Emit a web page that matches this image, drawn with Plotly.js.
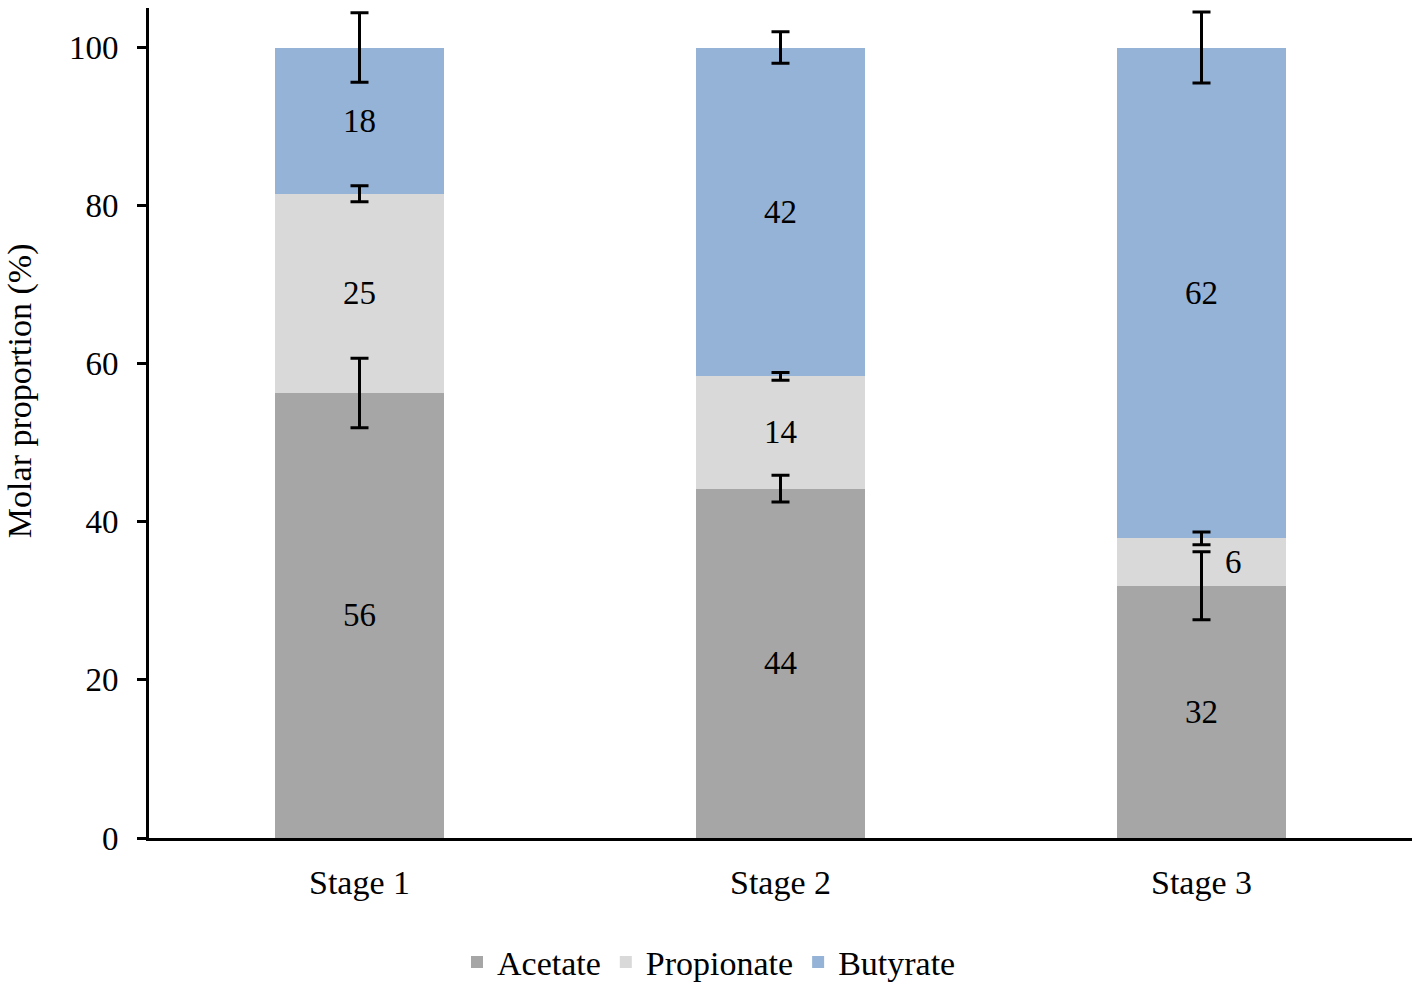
<!DOCTYPE html>
<html>
<head>
<meta charset="utf-8">
<script src="https://cdn.plot.ly/plotly-3.0.1.min.js"></script>
<style>
  html, body { margin: 0; padding: 0; background: #fff; }
  #chart { width: 1418px; height: 988px; }
</style>
</head>
<body>
<div id="chart"></div>
<script>
const stages = ["Stage 1", "Stage 2", "Stage 3"];
const acetate = [56.3, 44.2, 31.9];
const propionate = [25.2, 14.2, 6.0];
const butyrate = [18.5, 41.6, 62.1];
const acetateErr = [4.4, 1.7, 4.3];
const propionateErr = [1.0, 0.5, 0.8];
const butyrateErr = [4.4, 2.0, 4.5];
const acetateLabels = ["56", "44", "32"];
const propionateLabels = ["25", "14", "6"];
const butyrateLabels = ["18", "42", "62"];

const FONT = "Liberation Serif, Times New Roman, serif";
const FS = 33;

// the "6" of stage 3 is drawn beside the bar segment as an annotation
const smallSegment = 2;

function barTrace(name, values, labels, color, hideIndex) {
  return {
    type: "bar",
    name: name,
    x: stages,
    y: values,
    text: labels.map((t, i) => (i === hideIndex ? "" : t)),
    textposition: "inside",
    insidetextanchor: "middle",
    textangle: 0,
    constraintext: "none",
    textfont: { family: FONT, size: FS, color: "#000" },
    marker: { color: color, line: { width: 0 } },
    hoverinfo: "skip",
  };
}

function errTrace(tops, errs) {
  return {
    type: "scatter",
    mode: "markers",
    x: stages,
    y: tops,
    marker: { size: 1, opacity: 0 },
    error_y: {
      type: "data",
      array: errs,
      visible: true,
      color: "#000",
      thickness: 3,
      width: 9,
    },
    showlegend: false,
    hoverinfo: "skip",
  };
}

const acetateTop = acetate.slice();
const propionateTop = acetate.map((v, i) => v + propionate[i]);
const butyrateTop = propionateTop.map((v, i) => v + butyrate[i]);

const traces = [
  barTrace("Acetate", acetate, acetateLabels, "#a6a6a6", -1),
  barTrace("Propionate", propionate, propionateLabels, "#d9d9d9", smallSegment),
  barTrace("Butyrate", butyrate, butyrateLabels, "#95b3d7", -1),
  errTrace(acetateTop, acetateErr),
  errTrace(propionateTop, propionateErr),
  errTrace(butyrateTop, butyrateErr),
];

const layout = {
  width: 1418,
  height: 988,
  margin: { l: 149, r: 6, t: 8, b: 150 },
  paper_bgcolor: "#fff",
  plot_bgcolor: "#fff",
  barmode: "stack",
  bargap: 0.6,
  font: { family: FONT, size: FS, color: "#000" },
  showlegend: true,
  legend: {
    orientation: "h",
    traceorder: "normal",
    xref: "container",
    yref: "container",
    x: 0.5,
    xanchor: "center",
    y: 0.026,
    yanchor: "middle",
    font: { family: FONT, size: 34, color: "#000" },
    itemclick: false,
  },
  xaxis: {
    type: "category",
    showline: true,
    linecolor: "#000",
    linewidth: 3,
    ticks: "",
    showgrid: false,
    zeroline: false,
    ticklabelstandoff: 12,
    tickfont: { family: FONT, size: 34, color: "#000" },
  },
  yaxis: {
    range: [0, 105],
    tickvals: [0, 20, 40, 60, 80, 100],
    showline: true,
    linecolor: "#000",
    linewidth: 3,
    ticks: "outside",
    ticklen: 9,
    tickwidth: 3,
    tickcolor: "#000",
    showgrid: false,
    zeroline: false,
    ticklabelstandoff: 12,
    tickfont: { family: FONT, size: 33, color: "#000" },
  },
  annotations: [
    {
      xref: "paper",
      yref: "paper",
      x: -0.102,
      y: 0.5386,
      xanchor: "center",
      yanchor: "middle",
      textangle: -90,
      showarrow: false,
      text: "Molar proportion (%)",
      font: { family: FONT, size: 34, color: "#000" },
    },
    {
      xref: "x",
      yref: "y",
      x: stages[smallSegment],
      y: acetate[smallSegment] + propionate[smallSegment] / 2,
      xshift: 32,
      showarrow: false,
      text: propionateLabels[smallSegment],
      font: { family: FONT, size: FS, color: "#000" },
    },
  ],
};

Plotly.newPlot("chart", traces, layout, { displayModeBar: false, staticPlot: true });
</script>
</body>
</html>
